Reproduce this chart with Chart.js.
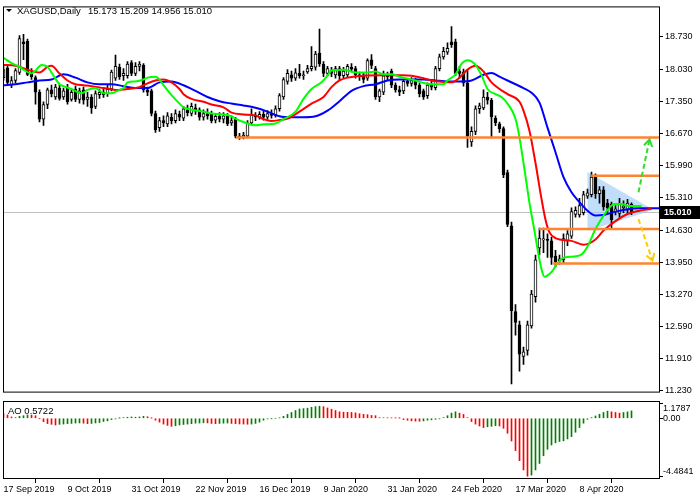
<!DOCTYPE html>
<html>
<head>
<meta charset="utf-8">
<script src="https://cdn.jsdelivr.net/npm/chart.js@4.4.1/dist/chart.umd.min.js"></script>
<style>
html, body { margin: 0; padding: 0; background: #fff; }
#wrap { position: relative; width: 700px; height: 500px; overflow: hidden; }
#mainChart { position: absolute; left: 0; top: 0; }
#aoChart { position: absolute; left: 0; top: 400px; }
</style>
</head>
<body>
<div id="wrap">
  <canvas id="mainChart" width="700" height="400"></canvas>
  <canvas id="aoChart" width="700" height="100"></canvas>
</div>
<script>
// XAGUSD daily candles, 17 Sep 2019 .. late Apr 2020
const openP = [17.86,18.07,17.70,17.80,17.97,18.62,18.63,17.93,17.86,17.55,16.98,17.29,17.60,17.45,17.64,17.45,17.66,17.40,17.62,17.40,
  17.60,17.40,17.45,17.25,17.50,17.55,17.52,17.62,17.85,18.08,17.90,17.90,18.18,17.95,18.10,18.12,17.60,17.58,17.10,16.80,
  16.95,16.88,17.02,16.95,17.08,17.00,17.18,17.10,17.22,17.18,17.02,17.10,17.08,16.96,17.04,16.98,17.05,16.90,16.98,16.62,
  16.60,16.62,16.90,17.05,17.02,17.08,17.02,17.10,17.06,17.20,17.45,17.78,17.92,17.85,17.95,17.90,17.98,18.05,18.08,18.38,
  18.15,17.95,18.02,17.92,18.05,17.90,17.92,18.08,18.05,17.92,17.92,17.85,18.24,18.05,17.45,17.55,17.90,18.00,17.70,17.60,
  17.58,17.78,17.74,17.80,17.70,17.58,17.48,17.70,17.65,18.05,18.30,18.40,18.62,18.62,18.00,17.98,17.75,16.50,16.72,17.20,
  17.22,17.45,17.38,17.00,16.88,16.78,15.85,14.72,12.90,12.62,11.95,12.08,12.60,13.22,14.25,14.42,14.43,14.40,14.08,13.98,
  14.00,14.40,14.50,14.96,14.95,15.00,15.35,15.38,15.78,15.40,15.48,15.20,15.18,15.02,14.98,15.10,15.05,15.173];
const highP = [18.10,18.12,17.88,18.05,18.75,18.78,18.68,18.05,17.90,17.60,17.35,17.64,17.70,17.72,17.70,17.64,17.72,17.60,17.68,17.64,
  17.66,17.55,17.50,17.58,17.62,17.64,17.70,18.02,18.34,18.15,18.05,18.20,18.22,18.18,18.20,18.16,17.66,17.62,17.15,17.02,
  17.05,17.12,17.10,17.18,17.15,17.25,17.28,17.32,17.30,17.22,17.18,17.20,17.15,17.10,17.12,17.12,17.10,17.05,17.02,16.68,
  16.70,16.95,17.20,17.12,17.14,17.15,17.16,17.18,17.26,17.52,17.86,18.03,18.00,18.05,18.14,18.00,18.12,18.52,18.42,18.89,
  18.20,18.10,18.08,18.10,18.10,18.08,18.14,18.16,18.10,17.98,17.96,18.26,18.35,18.10,17.62,18.00,17.98,18.04,17.75,17.68,
  17.82,17.84,17.86,17.85,17.74,17.62,17.75,17.78,18.10,18.36,18.50,18.60,18.94,18.68,18.10,18.04,18.02,16.82,17.26,17.32,
  17.60,17.55,17.42,17.05,16.92,16.82,15.90,14.80,13.05,12.70,12.15,12.70,13.35,14.10,14.67,14.67,14.55,14.48,14.20,14.10,
  14.55,14.62,15.10,15.12,15.30,15.45,15.50,15.86,15.82,15.55,15.55,15.28,15.22,15.15,15.30,15.25,15.28,15.209];
const lowP = [17.80,17.70,17.65,17.75,17.93,18.24,17.90,17.82,17.30,16.92,16.85,17.20,17.45,17.40,17.38,17.40,17.30,17.36,17.35,17.32,
  17.30,17.25,17.10,17.20,17.42,17.44,17.46,17.58,17.80,17.82,17.80,17.85,17.90,17.90,18.00,17.55,17.48,17.05,16.70,16.72,
  16.82,16.82,16.88,16.90,16.95,16.95,17.05,17.05,17.08,16.96,16.96,16.98,16.90,16.90,16.92,16.90,16.84,16.85,16.58,16.55,
  16.56,16.58,16.86,16.95,16.98,16.96,16.98,17.00,17.02,17.15,17.40,17.72,17.78,17.80,17.85,17.82,17.95,18.00,18.02,18.10,
  17.88,17.90,17.88,17.85,17.80,17.85,17.88,17.98,17.85,17.80,17.75,17.80,18.05,17.40,17.35,17.50,17.80,17.65,17.55,17.48,
  17.52,17.68,17.68,17.62,17.45,17.40,17.42,17.60,17.60,18.00,18.25,18.35,18.50,17.90,17.85,17.68,16.38,16.40,16.65,17.10,
  17.18,17.30,16.58,16.84,16.70,15.74,14.70,11.37,12.40,11.64,11.78,11.98,12.55,13.10,14.10,14.15,14.05,13.90,13.85,13.90,
  13.92,14.30,14.45,14.90,14.90,14.95,15.30,15.33,15.30,15.20,15.05,14.98,14.65,14.95,14.90,15.00,14.98,14.956];
const closeP = [18.03,17.76,17.80,18.01,18.69,18.58,17.93,17.88,17.55,16.98,17.29,17.60,17.52,17.66,17.42,17.58,17.35,17.55,17.40,17.58,
  17.38,17.45,17.22,17.52,17.55,17.50,17.62,17.98,18.10,17.88,17.95,18.15,17.95,18.10,18.15,17.60,17.55,17.10,16.75,16.95,
  16.90,17.05,16.95,17.10,17.02,17.20,17.12,17.25,17.15,17.02,17.10,17.05,16.95,17.04,16.98,17.05,16.88,16.95,16.62,16.60,
  16.64,16.90,17.08,17.02,17.08,17.02,17.10,17.06,17.20,17.48,17.82,17.95,17.85,17.96,17.90,17.92,18.05,18.10,18.36,18.15,
  17.95,18.05,17.95,18.05,17.90,18.00,18.10,18.04,17.92,17.88,17.82,18.22,18.12,17.45,17.58,17.90,17.88,17.70,17.60,17.55,
  17.78,17.74,17.80,17.70,17.52,17.45,17.70,17.66,18.05,18.30,18.42,18.48,18.56,17.95,17.95,17.75,16.62,16.72,17.20,17.26,
  17.45,17.38,17.03,16.90,16.78,15.80,14.75,12.92,12.67,12.00,12.05,12.62,13.27,14.00,14.46,14.44,14.41,14.05,13.95,14.02,
  14.45,14.55,15.02,15.05,15.15,15.38,15.42,15.75,15.40,15.48,15.12,15.10,14.85,15.08,15.20,15.14,15.20,15.010];

// Alligator lines (blue jaw, red teeth, green lips), sampled along the bars
const jawIdx = [0,3,6,9,12,15,18,21,24,27,30,33,36,39,42,45,48,51,54,57,60,63,66,69,72,75,78,81,84,87,90,93,96,99,102,105,108,111,114,117,120,122,124,126,128,130,132,134,136,138,140,142,144,146,148,150,153,156,159,162,165];
const jawVal = [17.70,17.72,17.76,17.80,17.82,17.93,17.86,17.76,17.72,17.72,17.68,17.64,17.64,17.76,17.78,17.70,17.58,17.45,17.36,17.31,17.27,17.22,17.14,17.04,17.02,17.02,17.04,17.16,17.36,17.58,17.68,17.72,17.80,17.82,17.82,17.82,17.80,17.78,17.78,17.80,17.92,17.96,17.88,17.80,17.72,17.64,17.54,17.33,16.80,16.28,15.75,15.43,15.22,15.04,14.94,14.95,15.02,15.07,15.09,15.09,15.09];
const teethIdx = [0,3,6,9,11,12,14,16,18,20,22,25,28,31,34,36,38,40,42,44,45,47,50,52,55,57,60,63,65,67,69,71,74,77,80,82,84,86,90,95,100,102,105,107,110,112,114,116,118,120,122,124,126,129,130,131.5,133,134.5,135.5,136.5,138,142,145,148,150,153,156,159,162];
const teethVal = [18.13,18.11,18.03,17.97,18.09,18.11,17.95,17.80,17.72,17.70,17.68,17.64,17.60,17.62,17.66,17.74,17.80,17.82,17.76,17.62,17.51,17.41,17.35,17.29,17.23,17.12,17.08,17.06,16.98,16.94,16.96,16.99,17.14,17.31,17.45,17.66,17.80,17.86,17.90,17.91,17.91,17.90,17.85,17.80,17.77,17.76,17.86,18.03,18.11,17.99,17.76,17.62,17.51,17.35,17.16,16.73,16.05,15.29,14.85,14.58,14.46,14.40,14.32,14.43,14.62,14.82,14.97,15.04,15.08];
const lipsIdx = [0,2,4,5,7,8,9.5,11,12,14,15,17,19.5,21,23,25,27,29,30,31,33,35,36,38,39,40,42,44,45,47,50,52,55,57,58,60,63,65,68,70,73,75,77,79.5,81,82,85,88,91,93,95,97,99,102,104.5,107,110,111,113,114.5,116,118,119.5,121,123,124.5,126,128,129,130.25,131.5,132.75,133.75,134.5,135.25,137,138.75,140.25,142.75,144.5,146.25,147.75,149.5,151.25,152.75,154.5,156.25,159.5];
const lipsVal = [18.28,18.17,18.09,18.03,17.95,18.01,18.13,18.09,17.97,17.72,17.68,17.62,17.53,17.60,17.64,17.53,17.53,17.60,17.64,17.76,17.78,17.82,17.86,17.88,17.82,17.70,17.49,17.31,17.23,17.18,17.14,17.10,17.08,17.04,16.99,16.92,16.85,16.87,16.89,16.98,17.14,17.41,17.62,17.76,17.90,18.01,18.03,17.97,17.97,17.99,17.93,17.93,17.88,17.82,17.76,17.72,17.72,17.80,17.93,18.15,18.23,18.13,17.91,17.62,17.51,17.45,17.31,16.99,16.59,15.91,15.20,14.61,14.11,13.80,13.64,13.74,13.95,14.05,14.07,14.11,14.32,14.61,14.87,15.08,15.18,15.18,15.14,15.14];

// Awesome Oscillator
const aoValues = [0.36,0.26,0.10,0.05,0.15,0.20,0.26,0.25,0.20,-0.02,-0.26,-0.41,-0.47,-0.52,-0.47,-0.45,-0.42,-0.40,-0.37,-0.36,
  -0.38,-0.42,-0.40,-0.36,-0.33,-0.25,-0.20,-0.10,-0.05,0.01,0.05,0.08,0.10,0.08,0.10,0.15,0.12,0.01,-0.15,-0.30,
  -0.45,-0.55,-0.62,-0.58,-0.52,-0.48,-0.45,-0.42,-0.38,-0.37,-0.35,-0.36,-0.40,-0.42,-0.40,-0.38,-0.37,-0.40,-0.42,-0.44,
  -0.45,-0.46,-0.45,-0.40,-0.30,-0.15,-0.05,-0.02,0.00,0.03,0.15,0.30,0.45,0.60,0.72,0.75,0.78,0.85,0.90,0.93,
  0.90,0.80,0.70,0.60,0.50,0.47,0.46,0.45,0.42,0.35,0.30,0.28,0.22,0.20,0.05,0.04,0.03,0.03,0.02,0.01,
  -0.10,-0.15,-0.20,-0.22,-0.23,-0.20,-0.15,-0.12,-0.08,-0.05,0.05,0.20,0.40,0.50,0.40,0.30,0.05,-0.25,-0.45,-0.60,
  -0.72,-0.66,-0.62,-0.57,-0.60,-0.78,-1.16,-1.76,-2.50,-3.28,-4.00,-4.4841,-4.40,-4.00,-3.50,-2.90,-2.40,-2.07,-1.90,-1.80,
  -1.75,-1.60,-1.42,-1.08,-0.72,-0.38,-0.08,0.05,0.18,0.31,0.45,0.55,0.50,0.45,0.40,0.45,0.50,0.5722];

const priceTicks = [18.73,18.03,17.35,16.67,15.99,15.31,14.63,13.95,13.27,12.59,11.91,11.23];
const aoTicks = [1.1787, 0, -4.4841];
const dateTickIdx = [0,16,32,48,64,80,96,112,128,144];
const dateLabels = ['17 Sep 2019','9 Oct 2019','31 Oct 2019','22 Nov 2019','16 Dec 2019','9 Jan 2020','31 Jan 2020','24 Feb 2020','17 Mar 2020','8 Apr 2020'];

// drawn objects: support/resistance levels, triangle and the two scenario arrows
const levelPrices = [16.59, 15.78, 14.65, 13.92];
const levelStart = [58.1, 146.9, 133.9, 137.4];
const triIdx = [146, 146, 162.5];
const triPrice = [15.86, 14.61, 15.06];
const upArrowIdx = [158.75, 161.5];
const upArrowPrice = [15.43, 16.55];
const downArrowIdx = [158.75, 162.25];
const downArrowPrice = [14.86, 13.98];

const symbolName = 'XAGUSD,Daily';
const lastPrice = 15.010;

const xMin = -0.125, xMax = 163.875;
const FONT = '"Liberation Sans", Arial, sans-serif';

Chart.defaults.font.family = FONT;
Chart.defaults.font.size = 9;
Chart.defaults.color = '#000';

const bars = openP.map((_, i) => i);

function drawArrow(ctx, x0, y0, x1, y1, color) {
    ctx.save();
    ctx.strokeStyle = color;
    ctx.lineWidth = 2;
    ctx.setLineDash([5, 3]);
    ctx.beginPath();
    ctx.moveTo(x0, y0);
    ctx.lineTo(x1, y1);
    ctx.stroke();
    ctx.setLineDash([]);
    const a = Math.atan2(y1 - y0, x1 - x0), L = 8;
    ctx.beginPath();
    ctx.moveTo(x1 - L * Math.cos(a - 0.55), y1 - L * Math.sin(a - 0.55));
    ctx.lineTo(x1, y1);
    ctx.lineTo(x1 - L * Math.cos(a + 0.55), y1 - L * Math.sin(a + 0.55));
    ctx.stroke();
    ctx.restore();
}

const mainOverlay = {
    id: 'mainOverlay',
    beforeDatasetsDraw(chart) {
        const {ctx, chartArea: a, scales: {x, y}} = chart;
        ctx.save();
        // current price line
        const py = Math.round(y.getPixelForValue(lastPrice)) + 0.5;
        ctx.strokeStyle = '#c0c0c0';
        ctx.lineWidth = 1;
        ctx.beginPath();
        ctx.moveTo(a.left, py);
        ctx.lineTo(a.right, py);
        ctx.stroke();
        // triangle pattern
        ctx.fillStyle = 'rgba(150, 200, 245, 0.6)';
        ctx.beginPath();
        triIdx.forEach((v, k) => {
            const px = x.getPixelForValue(v), pp = y.getPixelForValue(triPrice[k]);
            if (k === 0) ctx.moveTo(px, pp); else ctx.lineTo(px, pp);
        });
        ctx.closePath();
        ctx.fill();
        ctx.restore();
    },
    afterDatasetsDraw(chart) {
        const {ctx, scales: {x, y}} = chart;
        drawArrow(ctx, x.getPixelForValue(upArrowIdx[0]), y.getPixelForValue(upArrowPrice[0]),
            x.getPixelForValue(upArrowIdx[1]), y.getPixelForValue(upArrowPrice[1]), '#2edc2e');
        drawArrow(ctx, x.getPixelForValue(downArrowIdx[0]), y.getPixelForValue(downArrowPrice[0]),
            x.getPixelForValue(downArrowIdx[1]), y.getPixelForValue(downArrowPrice[1]), '#ffcc00');
    },
    afterDraw(chart) {
        const {ctx, chartArea: a, scales: {y}} = chart;
        ctx.save();
        // frame
        ctx.strokeStyle = '#000';
        ctx.lineWidth = 1;
        ctx.strokeRect(a.left + 0.5, a.top - 0.5, a.right - a.left, a.bottom - a.top);
        // last price box
        const py = Math.round(y.getPixelForValue(lastPrice));
        ctx.fillStyle = '#000';
        ctx.fillRect(a.right + 1, py - 6, 40, 13);
        ctx.fillStyle = '#fff';
        ctx.font = 'bold 9px ' + FONT;
        ctx.textBaseline = 'middle';
        ctx.fillText(lastPrice.toFixed(3), a.right + 5, py + 0.5);
        // header
        ctx.fillStyle = '#000';
        ctx.beginPath();
        ctx.moveTo(6, 9); ctx.lineTo(12, 9); ctx.lineTo(9, 12); ctx.closePath();
        ctx.fill();
        ctx.font = '9.5px ' + FONT;
        ctx.fillText(symbolName, 17, 11);
        const n = closeP.length - 1;
        ctx.fillText([openP[n], highP[n], lowP[n], closeP[n]].map(v => v.toFixed(3)).join(' '), 88, 11);
        ctx.restore();
    }
};

new Chart(document.getElementById('mainChart'), {
    type: 'bar',
    data: {
        datasets: [
            ...levelPrices.map((p, k) => ({
                type: 'line',
                data: [{x: levelStart[k], y: p}, {x: xMax, y: p}],
                borderColor: '#ff8432',
                borderWidth: 2.5,
                pointRadius: 0,
                order: 0
            })),
            {
                type: 'line',
                data: lipsIdx.map((v, k) => ({x: v, y: lipsVal[k]})),
                borderColor: '#00ff00',
                borderWidth: 2,
                pointRadius: 0,
                cubicInterpolationMode: 'monotone',
                order: 1
            },
            {
                type: 'line',
                data: teethIdx.map((v, k) => ({x: v, y: teethVal[k]})),
                borderColor: '#ff0000',
                borderWidth: 2,
                pointRadius: 0,
                cubicInterpolationMode: 'monotone',
                order: 1
            },
            {
                type: 'line',
                data: jawIdx.map((v, k) => ({x: v, y: jawVal[k]})),
                borderColor: '#0000ff',
                borderWidth: 2,
                pointRadius: 0,
                cubicInterpolationMode: 'monotone',
                order: 1
            },
            {
                data: bars.map(i => ({x: i, y: [openP[i], closeP[i]]})),
                backgroundColor: bars.map(i => closeP[i] >= openP[i] ? '#fff' : '#000'),
                borderColor: '#000',
                borderWidth: 1,
                borderSkipped: false,
                barThickness: 3,
                minBarLength: 1,
                grouped: false,
                order: 2
            },
            {
                data: bars.map(i => ({x: i, y: [lowP[i], highP[i]]})),
                backgroundColor: '#000',
                barThickness: 1,
                grouped: false,
                order: 3
            }
        ]
    },
    options: {
        responsive: false,
        animation: false,
        events: [],
        layout: {padding: {left: 3, top: 3, right: 0, bottom: 1}},
        plugins: {legend: {display: false}, tooltip: {enabled: false}},
        scales: {
            x: {type: 'linear', min: xMin, max: xMax, offset: false, display: false},
            y: {
                position: 'right',
                min: 11.184,
                max: 19.349,
                afterBuildTicks: s => { s.ticks = priceTicks.map(v => ({value: v})); },
                afterFit: s => { s.width = 41; },
                ticks: {autoSkip: false, padding: 2, callback: v => v.toFixed(3)},
                grid: {drawOnChartArea: false, tickLength: 4, color: '#000'},
                border: {display: false}
            }
        }
    },
    plugins: [mainOverlay]
});

const aoOverlay = {
    id: 'aoOverlay',
    afterDraw(chart) {
        const {ctx, chartArea: a, scales: {y}} = chart;
        ctx.save();
        ctx.strokeStyle = '#000';
        ctx.lineWidth = 1;
        ctx.strokeRect(a.left + 0.5, a.top - 0.5, a.right - a.left, a.bottom - a.top);
        ctx.fillStyle = '#000';
        ctx.font = '9px ' + FONT;
        ctx.textBaseline = 'middle';
        aoTicks.forEach(v => {
            let py = y.getPixelForValue(v);
            py = Math.min(Math.max(py, a.top + 6.5), a.bottom - 7);
            ctx.fillText(v === 0 ? '0.00' : v.toFixed(4), a.right + 4, py);
        });
        ctx.font = '9.5px ' + FONT;
        ctx.fillText('AO ' + aoValues[aoValues.length - 1].toFixed(4), 8, 11);
        ctx.restore();
    }
};

new Chart(document.getElementById('aoChart'), {
    type: 'bar',
    data: {
        datasets: [{
            data: aoValues.map((v, i) => ({x: i, y: v})),
            backgroundColor: aoValues.map((v, i) => (i > 0 && v > aoValues[i - 1]) ? '#008000' : '#ff0000'),
            barThickness: 1,
            grouped: false
        }]
    },
    options: {
        responsive: false,
        animation: false,
        events: [],
        layout: {padding: {left: 3, top: 2, right: 0, bottom: 0}},
        plugins: {legend: {display: false}, tooltip: {enabled: false}},
        scales: {
            x: {
                type: 'linear', min: xMin, max: xMax, offset: false,
                afterBuildTicks: s => { s.ticks = dateTickIdx.map(v => ({value: v})); },
                afterFit: s => { s.height = 21; },
                ticks: {autoSkip: false, maxRotation: 0, align: 'start', padding: 1, callback: (v, k) => dateLabels[k]},
                grid: {drawOnChartArea: false, tickLength: 4, color: '#000'},
                border: {display: false}
            },
            y: {
                position: 'right',
                min: -4.70,
                max: 1.26,
                afterBuildTicks: s => { s.ticks = aoTicks.map(v => ({value: v})); },
                afterFit: s => { s.width = 41; },
                ticks: {display: false},
                grid: {drawOnChartArea: false, tickLength: 4, color: '#000'},
                border: {display: false}
            }
        }
    },
    plugins: [aoOverlay]
});
</script>
</body>
</html>
